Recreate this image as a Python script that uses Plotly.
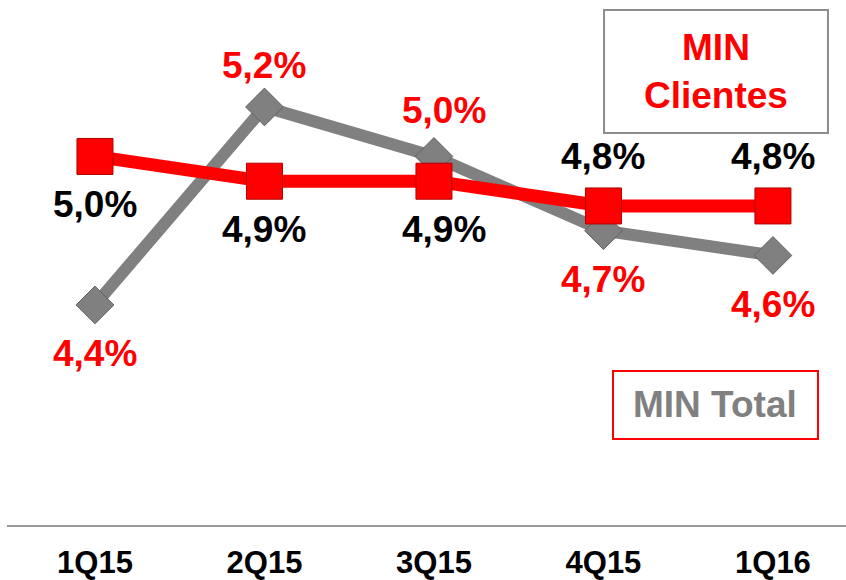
import plotly.graph_objects as go

categories = ["1Q15", "2Q15", "3Q15", "4Q15", "1Q16"]
min_clientes = [5.0, 4.9, 4.9, 4.8, 4.8]
min_total = [4.4, 5.2, 5.0, 4.7, 4.6]

clientes_label_pos = ["below", "below", "below", "above", "above"]
total_label_pos = ["below", "above", "above", "below", "below"]

FONT = "Arial, 'Liberation Sans', sans-serif"
RED = "#ff0000"
GRAY = "#808080"

def fmt(v):
    return f"{v:.1f}".replace(".", ",") + "%"

xi = list(range(len(categories)))

fig = go.Figure()
fig.add_trace(go.Scatter(
    x=xi, y=min_total, mode="lines+markers", name="MIN Total",
    line=dict(color=GRAY, width=12),
    marker=dict(symbol="diamond", size=29, color=GRAY, line=dict(color="#606060", width=1)),
    hoverinfo="skip",
))
fig.add_trace(go.Scatter(
    x=xi, y=min_clientes, mode="lines+markers", name="MIN Clientes",
    line=dict(color=RED, width=13),
    marker=dict(symbol="square", size=36, color=RED, line=dict(color="#b00000", width=1)),
    hoverinfo="skip",
))

annotations = []
for i, (v, pos) in enumerate(zip(min_clientes, clientes_label_pos)):
    annotations.append(dict(
        x=i, y=v, xref="x", yref="y", text=fmt(v), showarrow=False,
        xanchor="center", yanchor="middle",
        font=dict(family=FONT, size=37, color="black", weight="bold"),
        yshift=49 if pos == "above" else -48, xshift=10 if i == 2 else 0,
    ))
for i, (v, pos) in enumerate(zip(min_total, total_label_pos)):
    annotations.append(dict(
        x=i, y=v, xref="x", yref="y", text=fmt(v), showarrow=False,
        xanchor="center", yanchor="middle",
        font=dict(family=FONT, size=37, color=RED, weight="bold"),
        yshift=(41 if i == 1 else 46) if pos == "above" else -49,
        xshift=10 if i == 2 else 0,
    ))

annotations.append(dict(
    x=0.845, y=0.863, xref="paper", yref="paper", text="MIN<br>Clientes",
    xanchor="center", yanchor="middle",
    showarrow=False, font=dict(family=FONT, size=37, color=RED, weight="bold"),
    align="center",
))
annotations.append(dict(
    x=0.844, y=0.2286, xref="paper", yref="paper", text="MIN Total",
    xanchor="center", yanchor="middle",
    showarrow=False, font=dict(family=FONT, size=37, color=GRAY, weight="bold"),
    align="center",
))

shapes = [
    dict(type="rect", xref="paper", yref="paper", x0=0.7116, x1=0.9785, y0=0.7467, y1=0.981,
         line=dict(color="#8c8c8c", width=2), fillcolor="white", layer="below"),
    dict(type="rect", xref="paper", yref="paper", x0=0.7223, x1=0.9666, y0=0.1638, y1=0.2933,
         line=dict(color=RED, width=2), fillcolor="white", layer="below"),
]

fig.update_layout(
    width=846, height=580,
    margin=dict(l=7, r=0, t=0, b=55),
    paper_bgcolor="white", plot_bgcolor="white",
    showlegend=False,
    annotations=annotations,
    shapes=shapes,
    xaxis=dict(
        tickmode="array", tickvals=xi, ticktext=categories,
        range=[-0.519, 4.431], showgrid=False, zeroline=False,
        showline=True, linecolor="#9a9a9a", linewidth=2,
        ticks="", ticklabelstandoff=9, automargin=False,
        tickfont=dict(family=FONT, size=31, color="black", weight="bold"),
        fixedrange=True,
    ),
    yaxis=dict(
        range=[3.511, 5.632], showgrid=False, zeroline=False, showline=False,
        showticklabels=False, ticks="", fixedrange=True, automargin=False,
    ),
)

fig.write_html(
    "out.html",
    config={"displayModeBar": False},
    post_script="document.body.style.margin='0';document.body.style.overflow='hidden';",
)
